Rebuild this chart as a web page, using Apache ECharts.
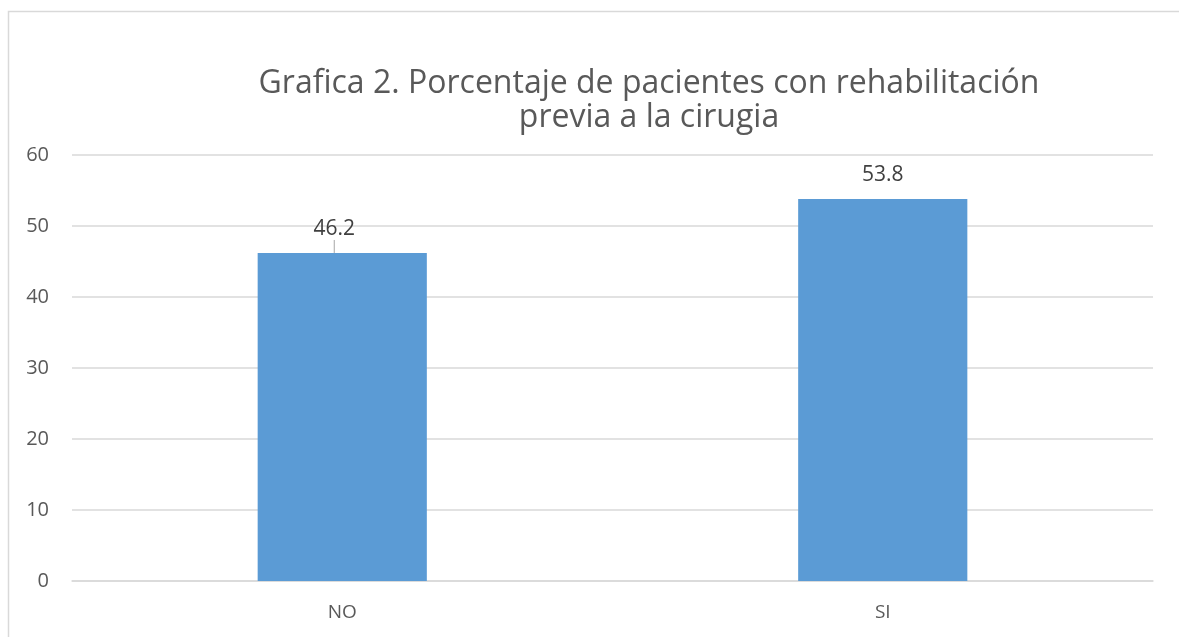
<!DOCTYPE html>
<html>
<head>
<meta charset="utf-8">
<script src="https://cdn.jsdelivr.net/npm/echarts@6/dist/echarts.min.js"></script>
<style>
    html, body { margin: 0; padding: 0; background: #fff; }
    #chart { width: 1179px; height: 637px; }
</style>
</head>
<body>
<div id="chart"></div>
<script>
// datos de la grafica
const categories = ["NO", "SI"];
const values = [46.2, 53.8];
const yTicks = [0, 10, 20, 30, 40, 50, 60];

let chart = echarts.init(document.getElementById("chart"));
const option = {
    backgroundColor: "#fff",
    textStyle: { fontFamily: "Open Sans" },
    title: {
        text: "Grafica 2. Porcentaje de pacientes con rehabilitación\nprevia a la cirugia",
        left: 644,
        top: 62,
        textAlign: "center",
        textStyle: {
            fontSize: 32,
            fontWeight: "normal",
            color: "#595959",
            lineHeight: 34,
            fontFamily: "Open Sans"
        }
    },
    // marco del grafico
    graphic: [
        {
            type: "rect",
            shape: { x: 8.5, y: 11.5, width: 1200, height: 700 },
            style: { fill: "none", stroke: "#d9d9d9", lineWidth: 1.5 },
            silent: true
        }
    ],
    grid: {
        left: 72,
        right: 26,
        top: 155,
        bottom: 56
    },
    xAxis: {
        type: "category",
        data: categories,
        axisTick: { show: false },
        axisLine: { lineStyle: { color: "#d9d9d9", width: 1.5 } },
        axisLabel: { color: "#595959", fontSize: 19, margin: 22 }
    },
    yAxis: {
        type: "value",
        min: yTicks[0],
        max: yTicks[yTicks.length - 1],
        interval: 10,
        axisLine: { show: false },
        axisTick: { show: false },
        axisLabel: { color: "#595959", fontSize: 20, margin: 23 },
        splitLine: { lineStyle: { color: "#d9d9d9", width: 1.5 } }
    },
    series: [
        {
            type: "bar",
            barWidth: "31.3%",
            data: values.map((v, i) => ({
                value: v,
                labelLine: { show: i === 0 }
            })),
            itemStyle: { color: "#5b9bd5" },
            label: {
                show: true,
                position: "top",
                color: "#404040",
                fontSize: 21,
                distance: 5
            },
            labelLine: {
                lineStyle: { color: "#a6a6a6", width: 1 }
            },
            labelLayout: function(params) {
                if (params.dataIndex === 0) {
                    return { dx: -8, dy: -8 };
                }
                return { dy: -9 };
            }
        }
    ]
};
chart.setOption(option);
</script>
</body>
</html>
